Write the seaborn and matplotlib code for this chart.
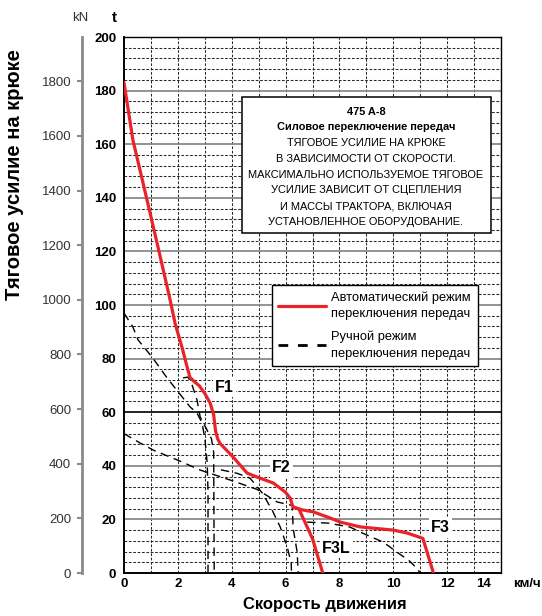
import matplotlib
matplotlib.use("Agg")
import matplotlib.pyplot as plt
import matplotlib.transforms as mtransforms
from matplotlib.lines import Line2D
from matplotlib.patches import Rectangle
import seaborn as sns

# ---------------- data ----------------
# automatic shift mode (red), km/h -> t
auto_speed = [0, 0.33, 0.86, 1.3, 1.71, 1.9, 2.16, 2.34, 2.45, 2.6, 2.8, 3.0, 3.2,
              3.33, 3.4, 3.48, 3.57, 4.05, 4.57, 4.94, 5.54, 5.99, 6.17, 6.25,
              6.28, 6.6, 7.03, 7.66, 8.03, 8.77, 10.0, 10.52, 11.1, 11.49]
auto_force = [183, 161.6, 139, 120, 102, 93, 84, 77, 73, 71.5, 69.8, 67, 63.4,
              59, 53, 50, 48.3, 43.3, 37.3, 35.8, 33.6, 30.2, 28, 25.4,
              24.6, 23.6, 22.8, 20.5, 19, 17.2, 16, 14.9, 12.9, 0]
# F3L branch of the automatic mode
f3l_speed = [6.3, 6.5, 7.0, 7.38]
f3l_force = [24.6, 23.8, 12.8, 0]

# manual shift mode (dashed black)
man_f1a_speed = [0, 0.33, 0.52, 1.04, 1.6, 2.16, 2.45, 2.71, 2.9, 3.01, 3.09, 3.12, 3.12]
man_f1a_force = [97, 91.8, 87, 80.6, 72.8, 65.7, 62, 59.7, 56, 49.6, 41, 30, 0]
man_f1b_speed = [2.19, 2.38, 2.53, 2.71, 2.83, 3.05, 3.25, 3.33, 3.35]
man_f1b_force = [72.8, 73.1, 70.1, 64.6, 58.2, 54, 50, 45, 0]
man_f2a_speed = [0, 0.6, 1.08, 2.16, 2.83, 3.94, 4.94, 5.69, 6.25, 6.28, 6.43, 6.47]
man_f2a_force = [52, 48.5, 45.9, 41.4, 38.4, 34.7, 31.2, 26.5, 25.2, 16.8, 7.8, 0]
man_f2b_speed = [3.6, 4.2, 4.68, 5.13, 5.5, 5.8, 6.06, 6.21, 6.22]
man_f2b_force = [38.5, 37.2, 35.4, 29.9, 23.5, 17.2, 9.7, 3.7, 0]
man_f3_speed = [6.8, 7.6, 8.4, 8.92, 9.63, 10.15, 10.6, 10.9, 11.0]
man_f3_force = [19, 18.6, 17.1, 14.6, 11.5, 7.7, 4.5, 1.5, 0]

x_ticks = [0, 2, 4, 6, 8, 10, 12, 14]
t_ticks = [0, 20, 40, 60, 80, 100, 120, 140, 160, 180, 200]
kn_ticks = [0, 200, 400, 600, 800, 1000, 1200, 1400, 1600, 1800]
KN_PER_T = 9.81

gear_labels = ["F1", "F2", "F3L", "F3"]
gear_label_x = [3.72, 5.84, 7.88, 11.75]
gear_label_y = [69.4, 39.2, 9.3, 16.8]

note_bold = ["475 A-8", "Силовое переключение передач"]
note_regular = ["ТЯГОВОЕ УСИЛИЕ НА КРЮКЕ",
                "В ЗАВИСИМОСТИ ОТ СКОРОСТИ.",
                "МАКСИМАЛЬНО ИСПОЛЬЗУЕМОЕ ТЯГОВОЕ",
                "УСИЛИЕ ЗАВИСИТ ОТ СЦЕПЛЕНИЯ",
                "И МАССЫ ТРАКТОРА, ВКЛЮЧАЯ",
                "УСТАНОВЛЕННОЕ ОБОРУДОВАНИЕ."]
legend_labels = ["Автоматический режим\nпереключения передач",
                 "Ручной режим\nпереключения передач"]

RED = "#e8232a"

# ---------------- figure ----------------
sns.set_style("white")
plt.rcParams["font.family"] = ["Liberation Sans", "DejaVu Sans"]
plt.rcParams["text.color"] = "black"
plt.rcParams["axes.labelcolor"] = "black"
plt.rcParams["xtick.color"] = "black"
plt.rcParams["ytick.color"] = "black"

W, H = 542, 616
fig = plt.figure(figsize=(W / 100, H / 100), dpi=100)
x0, x1, y_top, y_bot = 124, 501, 37, 573
ax = fig.add_axes([x0 / W, 1 - y_bot / H, (x1 - x0) / W, (y_bot - y_top) / H])
ax.set_xlim(0, 14)
ax.set_ylim(0, 200)

def ax_frac_y(px):
    return (y_bot - px) / (y_bot - y_top)

def ax_frac_x(px):
    return (px - x0) / (x1 - x0)

# grid
grid_dash = (0, (2.6, 1.6))
for v in range(1, 14):
    ax.axvline(v, color="#2a2a2a", lw=0.75, ls=grid_dash, zorder=1)
for h in range(4, 200, 4):
    if h % 20:
        ax.axhline(h, color="#2a2a2a", lw=0.75, ls=grid_dash, zorder=1)
    else:
        col = "#111111" if h == 60 else "#8a8a8a"
        ax.axhline(h, color=col, lw=1.3, zorder=1)

# curves
dash = (0, (6, 4))
for sp, fo in [(man_f1a_speed, man_f1a_force), (man_f1b_speed, man_f1b_force),
               (man_f2a_speed, man_f2a_force), (man_f2b_speed, man_f2b_force),
               (man_f3_speed, man_f3_force)]:
    sns.lineplot(x=sp, y=fo, ax=ax, sort=False, estimator=None, color="black",
                 lw=1.0, linestyle=dash, zorder=2)
sns.lineplot(x=auto_speed, y=auto_force, ax=ax, sort=False, estimator=None,
             color=RED, lw=2.3, zorder=3)
sns.lineplot(x=f3l_speed, y=f3l_force, ax=ax, sort=False, estimator=None,
             color=RED, lw=2.3, zorder=3)

for lab, lx, ly in zip(gear_labels, gear_label_x, gear_label_y):
    ax.text(lx, ly, lab, fontsize=11.5, fontweight="bold", ha="center", va="center",
            zorder=4, bbox=dict(fc="white", ec="none", pad=1.5))

# note box
bx0, bx1, by0, by1 = 242, 491, 97, 233
ax.add_patch(Rectangle((ax_frac_x(bx0), ax_frac_y(by1)),
                       ax_frac_x(bx1) - ax_frac_x(bx0), ax_frac_y(by0) - ax_frac_y(by1),
                       transform=ax.transAxes, fc="white", ec="black", lw=1.1, zorder=5))
cx = ax_frac_x(366)
line_y = 111.7
for txt in note_bold:
    ax.text(cx, ax_frac_y(line_y), txt, transform=ax.transAxes, ha="center", va="center",
            fontsize=7.9, fontweight="bold", zorder=6)
    line_y += 15.5
for txt in note_regular:
    ax.text(cx, ax_frac_y(line_y), txt, transform=ax.transAxes, ha="center", va="center",
            fontsize=7.9, zorder=6)
    line_y += 15.9

# legend
handles = [Line2D([], [], color=RED, lw=2.3),
           Line2D([], [], color="black", lw=2.0, ls=(0, (3.5, 3.5)))]
leg = ax.legend(handles, legend_labels, loc="upper left",
                bbox_to_anchor=(ax_frac_x(272), ax_frac_y(285)), frameon=True,
                fancybox=False, edgecolor="black", framealpha=1, fontsize=9.3,
                handlelength=3.7, handletextpad=0.4, labelspacing=0.85,
                borderpad=0.5, borderaxespad=0)
for t in leg.get_texts():
    t.set_linespacing(1.45)
    t.set_color("black")
leg.get_frame().set_linewidth(1.0)
leg.set_zorder(7)

# spines
for s in ["left", "bottom"]:
    ax.spines[s].set_linewidth(1.4)
    ax.spines[s].set_color("black")
for s in ["top", "right"]:
    ax.spines[s].set_linewidth(1.0)
    ax.spines[s].set_color("black")

# ticks on main axes
ax.set_xticks(x_ticks)
ax.set_xticklabels([str(v) for v in x_ticks], fontsize=9.5, fontweight="bold")
ax.set_yticks(t_ticks)
ax.set_yticklabels([str(v) for v in t_ticks], fontsize=9.5, fontweight="bold")
ax.tick_params(axis="x", length=0, pad=3.5, labelcolor="black")
ax.tick_params(axis="y", length=0, pad=5.5, labelcolor="black")
off = mtransforms.ScaledTranslation(-0.17, 0, fig.dpi_scale_trans)
lbl = ax.xaxis.get_major_ticks()[-1].label1
lbl.set_transform(lbl.get_transform() + off)
ax.set_xlabel("")
ax.set_ylabel("")

# kN axis
sec = ax.secondary_yaxis((82 - x0) / (x1 - x0),
                         functions=(lambda t: t * KN_PER_T, lambda k: k / KN_PER_T))
sec.set_yticks(kn_ticks)
sec.set_yticklabels([str(v) for v in kn_ticks])
sec.spines["left"].set_color("#8a8a8a")
sec.spines["left"].set_linewidth(2.0)
sec.tick_params(axis="y", colors="#8a8a8a", length=3.5, width=1.5, pad=4.3,
                labelcolor="#333333", labelsize=9.5)

# outer texts
fig.text(80 / W, 1 - 18 / H, "kN", ha="center", va="center", fontsize=9.5, color="#333333")
fig.text(114 / W, 1 - 18 / H, "t", ha="center", va="center", fontsize=11, fontweight="bold")
fig.text(527 / W, 1 - 584 / H, "км/ч", ha="center", va="center", fontsize=9.5,
         fontweight="bold")
fig.text(15 / W, 1 - 175 / H, "Тяговое усилие на крюке", rotation=90, ha="center",
         va="center", fontsize=14.5, fontweight="bold")
fig.text(325 / W, 1 - 605 / H, "Скорость движения", ha="center", va="center",
         fontsize=12, fontweight="bold")

fig.savefig("out.png", dpi=100)
